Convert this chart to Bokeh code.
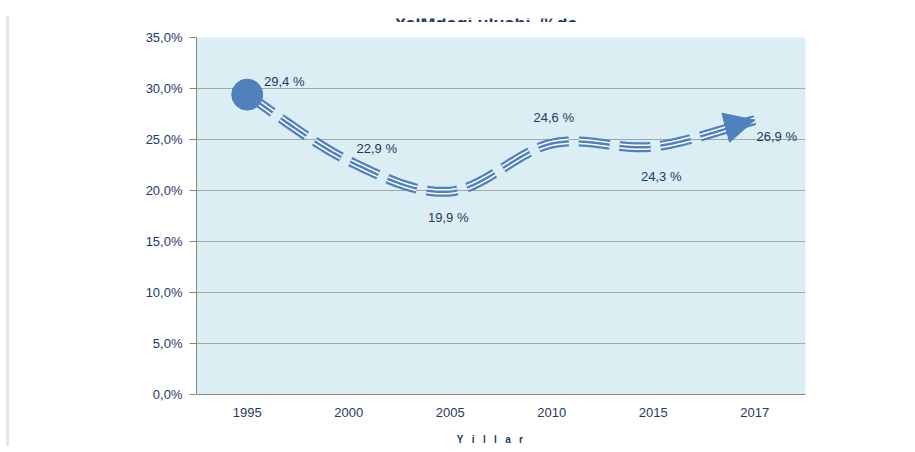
import numpy as np
from bokeh.plotting import figure
from bokeh.models import (Range1d, FixedTicker, ColumnDataSource,
                          Arrow, NormalHead, Spacer)
from bokeh.layouts import column, row
from bokeh.core.properties import value
from bokeh.embed import file_html
from bokeh.resources import INLINE

# ---------------- data ----------------
years = ["1995", "2000", "2005", "2010", "2015", "2017"]
shares = [29.4, 22.9, 19.9, 24.6, 24.3, 26.9]
y_ticks = [0, 5, 10, 15, 20, 25, 30, 35]
y_tick_labels = ["0,0%", "5,0%", "10,0%", "15,0%", "20,0%", "25,0%", "30,0%", "35,0%"]
title_text = "YaIMdagi ulushi, %da"
x_title = "Y i l l a r"

# label offsets (screen px) – styling only
lab_dx = [37, 28, -2, 2, 8, 22]
lab_dy = [-13, -12, 26, -26, 30, 16]

BLUE = "#4F81BD"
NAVY = "#1F3864"
GRID = "#A6A6A6"
AXIS = "#868686"
FONT = "Liberation Sans"
NB = "\u00a0"

xs = np.arange(len(years), dtype=float)
ys = np.array(shares, dtype=float)

# smoothed curve through the data points (cubic Bezier, Catmull-Rom controls)
px = np.concatenate([[xs[0]], xs, [xs[-1]]])
py = np.concatenate([[ys[0]], ys, [ys[-1]]])
t = np.linspace(0.0, 1.0, 41)
cx, cy = [], []
last_ctrl = None
for i in range(len(xs) - 1):
    p0 = np.array([xs[i], ys[i]])
    p3 = np.array([xs[i + 1], ys[i + 1]])
    prev = np.array([px[i], py[i]])
    nxt = np.array([px[i + 3], py[i + 3]])
    p1 = p0 + (p3 - prev) / 6.0
    p2 = p3 - (nxt - p0) / 6.0
    tt = t if i == 0 else t[1:]
    b = ((1 - tt) ** 3)[:, None] * p0 + (3 * (1 - tt) ** 2 * tt)[:, None] * p1 \
        + (3 * (1 - tt) * tt ** 2)[:, None] * p2 + (tt ** 3)[:, None] * p3
    cx.extend(b[:, 0]); cy.extend(b[:, 1])
    last_ctrl = p2

FIG_W = 900
ML, MR = 187, 104

# ---------- strip with the (cut-off) chart title ----------
tf = figure(width=FIG_W, height=8, x_range=Range1d(0, 1), y_range=Range1d(0, 1),
            output_backend="svg", toolbar_location=None,
            min_border_left=ML, min_border_right=MR, min_border_top=0, min_border_bottom=0)
tf.axis.visible = False
tf.grid.visible = False
tf.outline_line_color = None
tf.background_fill_color = "white"
tf.border_fill_color = "white"
tf.text(x=[0.5], y=[0], text=[title_text], x_offset=-15, y_offset=-3,
        text_align="center", text_baseline="alphabetic",
        text_font=value(FONT), text_font_style="bold", text_font_size="18px",
        text_color=NAVY)

# ---------- main chart ----------
p = figure(width=FIG_W, height=428,
           x_range=Range1d(-0.5, 5.5), y_range=Range1d(0, 35),
           output_backend="svg", toolbar_location=None,
           min_border_left=ML, min_border_right=MR,
           min_border_top=15, min_border_bottom=56)

p.background_fill_color = "#DAEEF3"
p.border_fill_color = "white"
p.outline_line_color = None

p.xaxis.ticker = FixedTicker(ticks=list(xs))
p.xaxis.major_label_overrides = {float(i): y for i, y in zip(xs, years)}
p.yaxis.ticker = FixedTicker(ticks=y_ticks)
p.yaxis.major_label_overrides = {t_: l for t_, l in zip(y_ticks, y_tick_labels)}
for ax in (p.xaxis[0], p.yaxis[0]):
    ax.axis_line_color = AXIS
    ax.axis_line_width = 1
    ax.major_tick_line_color = AXIS
    ax.minor_tick_out = 0
    ax.minor_tick_in = 0
    ax.major_tick_in = 0
    ax.major_label_text_font = FONT
    ax.major_label_text_font_size = "13px"
    ax.major_label_text_color = NAVY
p.yaxis.major_tick_out = 7
p.yaxis.major_label_standoff = 7
p.xaxis.major_tick_out = 0
p.xaxis.major_label_standoff = 13

# axis title (letter-spaced, shifted slightly left with trailing blanks)
p.xaxis.axis_label = x_title.replace(" ", NB * 3) + NB * 8
p.xaxis.axis_label_text_font = FONT
p.xaxis.axis_label_text_font_style = "bold"
p.xaxis.axis_label_text_font_size = "10px"
p.xaxis.axis_label_text_color = NAVY
p.xaxis.axis_label_standoff = 14

p.xgrid.visible = False
p.ygrid.grid_line_color = GRID
p.ygrid.grid_line_width = 1

# compound (triple) dashed smooth line
dash = "31 10"
p.line(cx, cy, line_color=BLUE, line_width=10, line_dash=dash, line_cap="butt")
p.line(cx, cy, line_color="white", line_width=5.5, line_dash=dash, line_cap="butt")
p.line(cx, cy, line_color=BLUE, line_width=2.5, line_dash=dash, line_cap="butt")

# start marker
p.scatter(x=xs[:1], y=ys[:1], size=31, fill_color=BLUE, line_color=BLUE)

# arrow head at the end
p.add_layout(Arrow(end=NormalHead(size=30, fill_color=BLUE, line_color=BLUE),
                   x_start=float(last_ctrl[0]), y_start=float(last_ctrl[1]),
                   x_end=float(xs[-1]), y_end=float(ys[-1]),
                   line_alpha=0))

# data labels
src = ColumnDataSource(dict(
    x=xs, y=ys,
    t=[f"{v:.1f}".replace(".", ",") + " %" for v in shares],
    dx=lab_dx, dy=lab_dy))
p.text(x="x", y="y", text="t", x_offset="dx", y_offset="dy", source=src,
       text_align="center", text_baseline="middle",
       text_font=value(FONT), text_font_size="13px", text_color=NAVY)

# left document border strip
bar = Spacer(width=3, height=430, styles={"background-color": "#E6E6E6"})

layout = row(Spacer(width=6, height=10),
             column(Spacer(width=3, height=16), bar),
             column(Spacer(width=FIG_W, height=14), tf, p))
open("out.html", "w").write(file_html(layout, INLINE))
